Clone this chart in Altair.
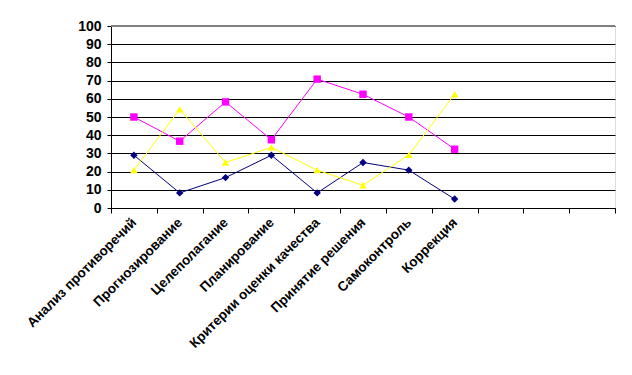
import altair as alt
import pandas as pd

categories = ["Анализ противоречий", "Прогнозирование", "Целеполагание", "Планирование",
              "Критерии оценки качества", "Принятие решения", "Самоконтроль", "Коррекция"]
empty_slots = ["_e1", "_e2", "_e3"]
navy_vals = [29, 8.3, 16.7, 29, 8.3, 25, 20.8, 4.9]
magenta_vals = [50, 36.7, 58.3, 37.5, 70.8, 62.5, 50, 32.3]
yellow_vals = [20.8, 54.2, 25, 33.3, 20.8, 12.5, 29.2, 62.5]
series_names = ["s1", "s2", "s3"]
series_colors = ["#000080", "#FF00FF", "#FFFF00"]
series_shapes = ["diamond", "square", "triangle-up"]
y_ticks = list(range(0, 101, 10))

rows = []
for name, vals in zip(series_names, [navy_vals, magenta_vals, yellow_vals]):
    for c, v in zip(categories, vals):
        rows.append({"cat": c, "value": v, "series": name})
df = pd.DataFrame(rows)

domain_all = categories + empty_slots

x = alt.X("cat:N",
          scale=alt.Scale(domain=domain_all, paddingInner=0, paddingOuter=0),
          axis=alt.Axis(title=None, tickBand="extent", labelAngle=315, labelAlign="right",
                        labelBaseline="middle", labelFontWeight="bold", labelFontSize=13.5,
                        labelFont="Liberation Sans", labelColor="black", tickColor="black",
                        domainColor="black", tickSize=5, labelPadding=7, grid=False,
                        labelExpr="slice(datum.label, 0, 2) == '_e' ? '' : datum.label"))
y = alt.Y("value:Q",
          scale=alt.Scale(domain=[0, 100], nice=False),
          axis=alt.Axis(title=None, values=y_ticks, grid=True, gridColor="black",
                        gridOpacity=1, ticks=True, tickSize=4, tickColor="black",
                        labelPadding=6, labelFontWeight="bold",
                        labelFontSize=14, labelFont="Liberation Sans", labelColor="black",
                        domainColor="black"))
color = alt.Color("series:N", scale=alt.Scale(domain=series_names, range=series_colors), legend=None)
shape = alt.Shape("series:N", scale=alt.Scale(domain=series_names, range=series_shapes), legend=None)

base = alt.Chart(df)
lines = base.mark_line(strokeWidth=1).encode(x=x, y=y, color=color, detail="series:N")
points = base.mark_point(filled=True, opacity=1, size=55).encode(x=x, y=y, color=color, shape=shape)
top_rule = base.mark_rule(color="#808080", strokeWidth=1).encode(
    x=alt.value(0), x2=alt.value(504), y=alt.value(0))

chart = alt.layer(lines, points, top_rule).properties(
    width=504, height=182,
    autosize=alt.AutoSizeParams(type="none"),
    padding={"left": 103, "top": 18, "right": 9, "bottom": 159},
).configure_view(stroke="#808080", strokeWidth=1).configure(background="white")

chart.save("out.html", embed_options={"renderer": "svg", "actions": False})
